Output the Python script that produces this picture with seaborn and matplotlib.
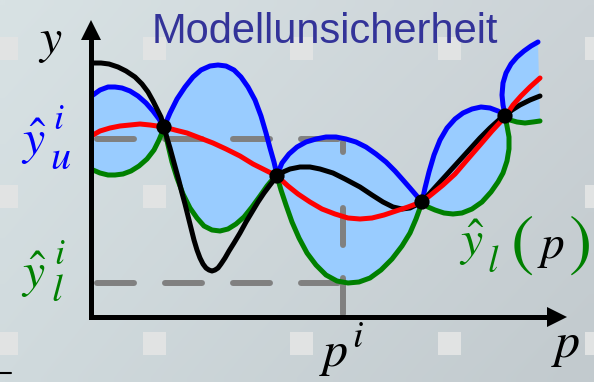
import numpy as np
import matplotlib
matplotlib.use("Agg")
import matplotlib.pyplot as plt
import seaborn as sns
from matplotlib.patches import Polygon, Rectangle

# ---------------- data (chart units: pixel grid, y pointing down) ----------------
# true model (black)
true_p = [93, 101, 109, 118, 126, 135, 142, 148, 153, 157, 161, 164, 167, 170, 173, 176, 179, 182,
          185, 188, 191, 194, 197, 200, 203, 206, 209, 212, 215, 218, 221, 225, 229, 234, 240, 246,
          252, 258, 264, 270, 277, 283, 290, 300, 310, 320, 333, 345, 360, 372, 383, 393, 402, 410,
          416, 422, 430, 440, 450, 460, 470, 480, 490, 500, 505, 512, 520, 530, 540]
true_y = [63, 63, 64, 67, 71, 77, 84, 92, 101, 109, 117, 127, 138, 148, 159, 170, 181, 193,
          204, 216, 228, 240, 250, 258, 264, 268, 270, 271, 270, 268, 264, 258, 251, 243, 233, 222,
          212, 202, 193, 185, 176, 172, 169, 167, 167, 169, 173, 179, 187, 195, 202, 207, 209, 208,
          205, 202, 193, 182, 171, 160, 149, 138, 128, 119, 116, 110, 105, 100, 96]

# interpolating model (red)
model_p = [93, 100, 110, 120, 130, 140, 150, 157, 164, 175, 187, 200, 213, 226, 240, 253, 265, 277,
           288, 298, 310, 322, 335, 348, 360, 372, 384, 396, 408, 416, 422, 432, 443, 455, 467,
           480, 492, 505, 513, 521, 530, 540]
model_y = [135, 131, 128, 126, 125, 124, 125, 126, 127, 130, 133, 138, 143, 149, 156, 164, 170, 176,
           186, 194, 202, 209, 214, 218, 219, 218, 215, 211, 207, 204, 202, 194, 185, 174, 160,
           145, 131, 117, 105, 96, 87, 78]

# upper bound (blue)
upper_p = [93, 100, 108, 115, 122, 130, 138, 146, 153, 159, 164, 170, 177, 185, 193, 201, 210, 218,
           226, 234, 241, 248, 255, 261, 266, 270, 274, 277, 282, 289, 297, 306, 316, 326, 336,
           346, 356, 366, 376, 386, 395, 403, 410, 416, 422, 425, 429, 434, 440, 447, 455, 463,
           472, 481, 490, 498, 505, 503, 502, 503, 506, 511, 517, 524, 531, 538]
upper_y = [95, 90, 87, 87, 88, 91, 96, 103, 111, 119, 127, 113, 99, 87, 77, 70, 66, 65,
           66, 70, 77, 87, 100, 116, 133, 148, 162, 175, 163, 154, 147, 142, 139, 137, 137,
           139, 142, 147, 154, 162, 171, 180, 188, 195, 202, 188, 172, 155, 140, 128, 119, 113,
           109, 107, 108, 111, 115, 105, 95, 83, 73, 64, 57, 51, 46, 42]

# lower bound (green)
lower_p = [93, 100, 108, 115, 123, 131, 139, 147, 154, 159, 164, 168, 172, 177, 183, 190, 197, 204,
           212, 220, 228, 236, 244, 252, 260, 267, 272, 277, 281, 286, 292, 299, 307, 316, 326,
           337, 348, 359, 370, 381, 392, 402, 410, 416, 420, 422, 428, 435, 444, 453, 462, 472,
           482, 491, 498, 503, 507, 509, 509, 507, 505, 510, 517, 525, 533, 540]
lower_y = [170, 173, 175, 175, 174, 171, 166, 159, 150, 140, 128, 145, 162, 178, 194, 208, 218, 226,
           230, 231, 229, 224, 217, 207, 196, 186, 180, 176, 190, 205, 222, 238, 253, 265, 275,
           281, 283, 282, 278, 270, 259, 246, 233, 219, 208, 202, 207, 210, 213, 214, 213, 209,
           202, 192, 182, 173, 161, 149, 137, 126, 116, 120, 122, 123, 122, 121]

# support points (black dots)
support_p = [164, 277, 422, 505]
support_y = [127, 176, 202, 116]

# reading-off guides
p_i = 343
yu_i = 139
yl_i = 283

# axes geometry
origin = (91, 317)
y_top = 20
x_right = 567

title = "Modellunsicherheit"

# ---------------- figure ----------------
sns.set_style("white")
plt.rcParams['mathtext.fontset'] = 'stix'
plt.rcParams['lines.scale_dashes'] = False
plt.rcParams['font.family'] = ['Liberation Sans', 'DejaVu Sans']

W, H = 594, 382
fig = plt.figure(figsize=(W / 100, H / 100), dpi=100)
ax = fig.add_axes([0, 0, 1, 1])
ax.set_xlim(0, W)
ax.set_ylim(H, 0)
ax.axis('off')

# background gradient
tl = np.array([216, 226, 228]) / 255
tr = np.array([204, 211, 215]) / 255
bl = np.array([208, 218, 221]) / 255
br = np.array([194, 202, 206]) / 255
u = np.linspace(0, 1, 60)[None, :, None]
v = np.linspace(0, 1, 40)[:, None, None]
grad = (1 - v) * ((1 - u) * tl + u * tr) + v * ((1 - u) * bl + u * br)
ax.imshow(grad, extent=[0, W, H, 0], aspect='auto', zorder=0, interpolation='bilinear')

# light square pattern
for sx in np.arange(-5, W, 147.5):
    for sy in np.arange(37, H, 147.5):
        ax.add_patch(Rectangle((sx, sy), 23, 23, color='#e1e3e3', lw=0, zorder=0.5))

# band between upper and lower bounds
ax.fill(np.concatenate([[91], upper_p, lower_p[::-1], [91]]),
        np.concatenate([[upper_y[0]], upper_y, lower_y[::-1], [lower_y[0]]]),
        color='#99ccff', lw=0, zorder=1)

# dashed guides
gkw = dict(color='#808080', lw=4.3, solid_capstyle='round', dash_capstyle='round', zorder=2)
for lvl in (yu_i, yl_i):
    ln, = ax.plot([97, p_i - 3], [lvl, lvl], **gkw)
    ln.set_dashes((37 * 0.72, 31 * 0.72))
ln, = ax.plot([p_i, p_i], [origin[1] - 3, yu_i + 3], **gkw)
ln.set_dashes((36 * 0.72, 33 * 0.72, 37 * 0.72, 56 * 0.72, 10 * 0.72))

# curves
lkw = dict(sort=False, estimator=None, legend=False, ax=ax, lw=3.6)
sns.lineplot(x=lower_p, y=lower_y, color='#008000', zorder=3, **lkw)
sns.lineplot(x=upper_p, y=upper_y, color='#0000ff', zorder=3, **lkw)
sns.lineplot(x=true_p, y=true_y, color='#000000', zorder=4, **lkw)
sns.lineplot(x=model_p, y=model_y, color='#ff0000', zorder=5, **lkw)
for l in ax.lines[-4:]:
    l.set_solid_joinstyle('round')
    l.set_solid_capstyle('round')

sns.scatterplot(x=support_p, y=support_y, color='black', s=120, edgecolor='none',
                zorder=6, ax=ax, legend=False)

# axes with arrows
ax.plot([origin[0], origin[0], x_right - 19], [y_top + 20, origin[1], origin[1]],
        color='black', lw=3.6, solid_joinstyle='miter', zorder=7)
ax.add_patch(Polygon([[origin[0], y_top], [origin[0] - 10, y_top + 20], [origin[0] + 10, y_top + 20]],
                     closed=True, color='black', lw=0, zorder=7))
ax.add_patch(Polygon([[x_right, origin[1]], [x_right - 20, origin[1] - 10], [x_right - 20, origin[1] + 10]],
                     closed=True, color='black', lw=0, zorder=7))
ax.plot([0, 11], [373, 373], color='black', lw=1.5, zorder=7)

# title
ax.text(152, 43, title, color='#333399', fontsize=30, ha='left', va='baseline', zorder=8)

# labels
blue, green = '#0000ff', '#008000'
ax.text(50, 53, r'$y$', fontsize=36, ha='center', va='baseline', color='black')
ax.text(34, 155, r'$\hat{y}$', fontsize=36, ha='center', va='baseline', color=blue)
ax.text(59, 129, r'$i$', fontsize=26, ha='center', va='baseline', color=blue)
ax.text(61, 169, r'$u$', fontsize=29, ha='center', va='baseline', color=blue)
ax.text(34, 288, r'$\hat{y}$', fontsize=36, ha='center', va='baseline', color=green)
ax.text(60, 264, r'$i$', fontsize=26, ha='center', va='baseline', color=green)
ax.text(57, 301, r'$l$', fontsize=28, ha='center', va='baseline', color=green)

ax.text(472, 256, r'$\hat{y}$', fontsize=36, ha='center', va='baseline', color=green)
ax.text(493, 272, r'$l$', fontsize=27, ha='center', va='baseline', color=green)
ax.text(522, 263, '(', fontsize=50, family='STIXGeneral', ha='center', va='baseline', color=green)
ax.text(551, 258, r'$p$', fontsize=34, ha='center', va='baseline', color='black')
ax.text(581, 263, ')', fontsize=50, family='STIXGeneral', ha='center', va='baseline', color=green)

ax.text(334, 366, r'$p$', fontsize=36, ha='center', va='baseline', color='black')
ax.text(358, 347, r'$i$', fontsize=27, ha='center', va='baseline', color='black')
ax.text(566, 357, r'$p$', fontsize=36, ha='center', va='baseline', color='black')

fig.savefig('out.png', dpi=100)
